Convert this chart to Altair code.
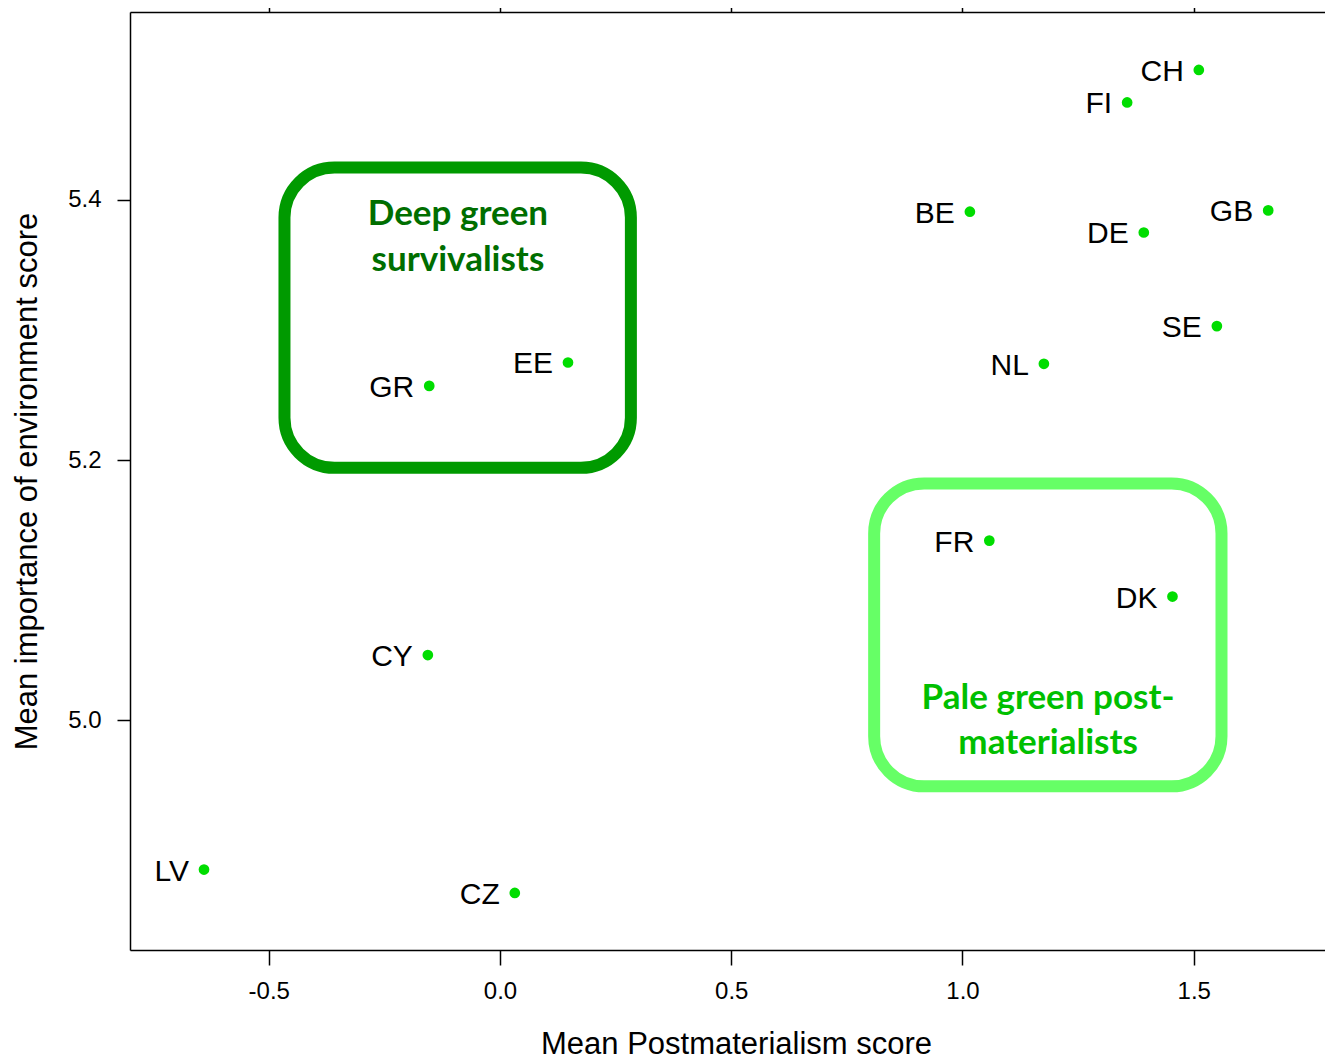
import altair as alt
import pandas as pd

countries = ["CH", "FI", "BE", "DE", "GB", "SE", "NL", "GR", "EE", "FR", "DK", "CY", "LV", "CZ"]
postmat = [1.511, 1.356, 1.016, 1.392, 1.661, 1.550, 1.176, -0.153, 0.147, 1.058, 1.454, -0.156, -0.640, 0.032]
environ = [5.500, 5.475, 5.391, 5.375, 5.392, 5.303, 5.274, 5.257, 5.275, 5.138, 5.095, 5.050, 4.885, 4.867]

box_names = ["Deep green survivalists", "Pale green post-materialists"]
box_x1 = [-0.466, 0.809]
box_x2 = [0.283, 1.560]
box_y1 = [5.425, 5.182]
box_y2 = [5.194, 4.949]
box_colors = ["#009a00", "#66ff66"]

note_lines = ["Deep green", "survivalists", "Pale green post-", "materialists"]
note_x = [-0.091, -0.091, 1.185, 1.185]
note_y = [5.389, 5.354, 5.017, 4.982]
note_colors = ["#006e00", "#006e00", "#00bf00", "#00bf00"]

pts = pd.DataFrame({"country": countries, "x": postmat, "y": environ})
boxes = pd.DataFrame({"name": box_names, "x1": box_x1, "x2": box_x2,
                      "y1": box_y1, "y2": box_y2, "color": box_colors})
notes = pd.DataFrame({"text": note_lines, "x": note_x, "y": note_y, "color": note_colors})

FONT = "Liberation Sans"
TICKS_X = [-0.5, 0.0, 0.5, 1.0, 1.5]
TICKS_Y = [5.0, 5.2, 5.4]
xscale = alt.Scale(domain=[-0.8, 1.7838], nice=False, zero=False)
yscale = alt.Scale(domain=[4.8231, 5.5446], nice=False, zero=False)

LABEL_EXPR = "datum.value < 0 ? '-' + format(-datum.value, '.1f') : format(datum.value, '.1f')"

xaxis = alt.Axis(values=TICKS_X, labelExpr=LABEL_EXPR, title="Mean Postmaterialism score",
                 grid=False, domainColor="black", domainWidth=1.5, tickColor="black", tickWidth=1.5,
                 tickSize=15, labelFontSize=24, labelFont=FONT, labelColor="black", labelPadding=14,
                 titleFont=FONT, titleFontSize=31, titleFontWeight="normal", titleColor="black",
                 titlePadding=26, titleX=606, titleAlign="center", titleAnchor="start")
yaxis = alt.Axis(values=TICKS_Y, labelExpr=LABEL_EXPR, title="Mean importance of environment score",
                 grid=False, domainColor="black", domainWidth=1.5, tickColor="black", tickWidth=1.5,
                 tickSize=13, labelFontSize=24, labelFont=FONT, labelColor="black", labelPadding=16,
                 labelAngle=0, titleFont=FONT, titleFontSize=31, titleFontWeight="normal",
                 titleColor="black", titlePadding=24)
topaxis = alt.Axis(orient="top", values=TICKS_X, labels=False, title=None,
                   grid=False, domainColor="black", domainWidth=1.5, tickColor="black",
                   tickWidth=1.5, tickSize=12)

points = alt.Chart(pts).mark_circle(size=115, opacity=1, color="#00dd00").encode(
    x=alt.X("x:Q", scale=xscale, axis=xaxis),
    y=alt.Y("y:Q", scale=yscale, axis=yaxis),
)

top_axis = alt.Chart(pts).mark_point(opacity=0).encode(
    x=alt.X("x:Q", scale=xscale, axis=topaxis),
    y=alt.Y("y:Q", scale=yscale, axis=None),
)

rects = alt.Chart(boxes).mark_rect(fillOpacity=0, strokeWidth=12, cornerRadius=50).encode(
    x=alt.X("x1:Q", scale=xscale, axis=None), x2="x2:Q",
    y=alt.Y("y1:Q", scale=yscale, axis=None), y2="y2:Q",
    stroke=alt.Stroke("color:N", scale=None),
)

note_text = alt.Chart(notes).mark_text(font="Lato", fontWeight="bold", fontSize=35,
                                        align="center", baseline="middle").encode(
    x=alt.X("x:Q", scale=xscale, axis=None),
    y=alt.Y("y:Q", scale=yscale, axis=None),
    text="text:N",
    color=alt.Color("color:N", scale=None),
)

labels = alt.Chart(pts).mark_text(font=FONT, fontSize=30, align="right", baseline="middle",
                                  dx=-15, dy=2, color="black").encode(
    x=alt.X("x:Q", scale=xscale, axis=None),
    y=alt.Y("y:Q", scale=yscale, axis=None),
    text="country:N",
)

chart = alt.layer(rects, note_text, labels, points, top_axis).resolve_scale(
    x="independent", y="independent"
).properties(
    width=1195, height=938,
    autosize=alt.AutoSizeParams(type="none"),
    padding={"left": 122, "top": 4, "right": 0, "bottom": 108},
).configure_view(strokeWidth=0).configure(background="white")

chart.save("out.html", embed_options={"renderer": "svg", "actions": False})
